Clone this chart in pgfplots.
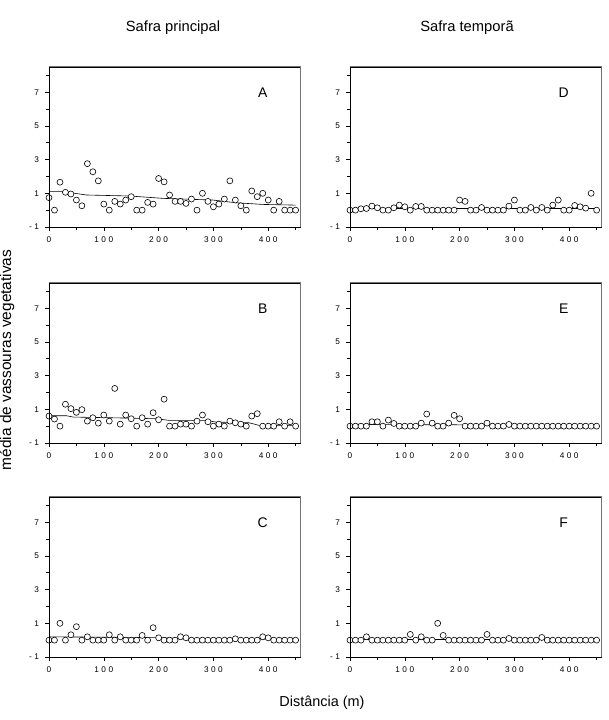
\documentclass[border=0pt]{standalone}
\usepackage{fontspec}
\setmainfont{Liberation Sans}
\newfontfamily\tickfontfam[LetterSpace=30]{Liberation Sans}
\newcommand\tickfont{\tickfontfam\fontsize{8.3}{10}\selectfont}
\usepackage{pgfplots}
\usepackage{pgfplotstable}
\pgfplotsset{compat=1.18}

\pgfplotstableread{
x A B C D E F
0 0.74 0.6 0 0 0 0
10 0 0.42 0 0 0 0
20 1.66 0 1.0 0.08 0 0
30 1.06 1.3 0 0.1 0 0.2
40 0.96 1.04 0.32 0.24 0.26 0
50 0.6 0.82 0.8 0.14 0.26 0
60 0.26 0.98 0 0 0 0
70 2.76 0.3 0.2 0 0.36 0
80 2.28 0.5 0 0.14 0.16 0
90 1.74 0.18 0 0.3 0 0
100 0.36 0.66 0 0.2 0 0
110 0 0.3 0.32 0 0 0.34
120 0.52 2.24 0 0.22 0 0
130 0.36 0.12 0.2 0.22 0.18 0.2
140 0.6 0.66 0 0 0.72 0
150 0.8 0.44 0 0 0.18 0
160 0 0 0 0 0 1.0
170 0 0.5 0.28 0 0 0.28
180 0.46 0.12 0 0 0.18 0
190 0.36 0.8 0.74 0 0.64 0
200 1.88 0.38 0.14 0.6 0.44 0
210 1.68 1.6 0 0.52 0 0
220 0.9 0 0 0 0 0
230 0.52 0 0 0 0 0
240 0.52 0.12 0.2 0.16 0 0
250 0.4 0.12 0.14 0 0.18 0.34
260 0.66 0 0 0 0 0
270 0 0.3 0 0 0 0
280 1.0 0.66 0 0 0 0
290 0.52 0.26 0 0.24 0.1 0.1
300 0.2 0 0 0.6 0 0
310 0.36 0.12 0 0 0 0
320 0.66 0 0 0 0 0
330 1.74 0.3 0 0.16 0 0
340 0.6 0.2 0.08 0 0 0
350 0.26 0.12 0 0.16 0 0.16
360 0 0 0 0 0 0
370 1.14 0.6 0 0.3 0 0
380 0.8 0.74 0 0.6 0 0
390 1.0 0 0.2 0 0 0
400 0.6 0 0.14 0 0 0
410 0 0 0 0.28 0 0
420 0.52 0.26 0 0.2 0 0
430 0 0 0 0.12 0 0
440 0 0.26 0 1.0 0 0
450 0 0 0 0 0 0
}\data

\pgfplotsset{
  panel/.style={
    scale only axis, width=251bp, height=160bp,
    xmin=0, xmax=458, ymin=-1, ymax=8.5,
    xtick pos=left, ytick pos=left,
    tick align=outside,
    xtick={0,100,200,300,400}, xticklabels={0,100,200,300,400},
    minor xtick={50,150,250,350,450},
    ytick={-1,1,3,5,7}, yticklabels={-1,1,3,5,7},
    minor ytick={0,2,4,6,8},
    major tick length=4bp, minor tick length=3bp,
    tick style={black, line width=0.6pt},
    ticklabel style={font=\tickfont},
    xticklabel style={yshift=-2.5bp},
    yticklabel style={xshift=-2.5bp},
    clip=false, anchor=south west,
  },
  pts/.style={only marks, mark=*, mark size=3bp,
    mark options={fill=white, draw=black, line width=0.6pt}},
  fit/.style={black, line width=0.6pt, no marks},
}
\newcommand\letter[1]{\node[font=\fontsize{14}{16}\selectfont] at (axis cs:390,7) {#1};}
\newcommand\frameaxis[1]{%
  \draw[black!55, line width=1pt] (#1.south east) -- (#1.north east) -- (#1.north west);
  \draw[black, line width=0.8pt] (#1.north west) -- (#1.south west) -- (#1.south east);}

\begin{document}
\begin{tikzpicture}
\path[use as bounding box] (0,0) rectangle (609bp,720bp);

% A
\begin{axis}[panel, name=pA, at={(49bp,493bp)}]
\addplot[fit] coordinates {(0,1.1)(26,1.1)(68,0.9)(147,0.84)(208,0.7)(299,0.6)(341,0.44)(390,0.34)(450,0.3)};
\addplot[pts] table[x=x,y=A] {\data};
\letter{A}
\end{axis}
% D
\begin{axis}[panel, name=pD, at={(350bp,493bp)}]
\addplot[fit] coordinates {(0,0.12)(450,0.12)};
\addplot[pts] table[x=x,y=D] {\data};
\letter{D}
\end{axis}
% B
\begin{axis}[panel, name=pB, at={(49bp,277bp)}]
\addplot[fit] coordinates {(0,0.62)(32,0.62)(44,0.54)(111,0.5)(196,0.44)(220,0.34)(287,0.34)(305,0.24)(365,0.2)(383,0.05)(450,0.05)};
\addplot[pts] table[x=x,y=B] {\data};
\letter{B}
\end{axis}
% E
\begin{axis}[panel, name=pE, at={(350bp,277bp)}]
\addplot[fit] coordinates {(0,0.1)(200,0.08)(450,0.04)};
\addplot[pts] table[x=x,y=E] {\data};
\letter{E}
\end{axis}
% C
\begin{axis}[panel, name=pC, at={(49bp,63bp)}]
\addplot[fit] coordinates {(0,0.2)(200,0.15)(260,0.08)(450,0.06)};
\addplot[pts] table[x=x,y=C] {\data};
\letter{C}
\end{axis}
% F
\begin{axis}[panel, name=pF, at={(350bp,63bp)}]
\addplot[fit] coordinates {(0,0.04)(450,0.04)};
\addplot[pts] table[x=x,y=F] {\data};
\letter{F}
\end{axis}

\frameaxis{pA}\frameaxis{pB}\frameaxis{pC}\frameaxis{pD}\frameaxis{pE}\frameaxis{pF}

\node[font=\fontsize{14.8}{17}\selectfont] at (173bp,692bp) {Safra principal};
\node[font=\fontsize{14.8}{17}\selectfont] at (467bp,692bp) {Safra temporã};
\node[font=\fontsize{14.5}{17}\selectfont] at (322bp,17bp) {Distância (m)};
\node[font=\fontsize{15.5}{18}\selectfont, rotate=90] at (7bp,360bp) {média de vassouras vegetativas};
\end{tikzpicture}
\end{document}
